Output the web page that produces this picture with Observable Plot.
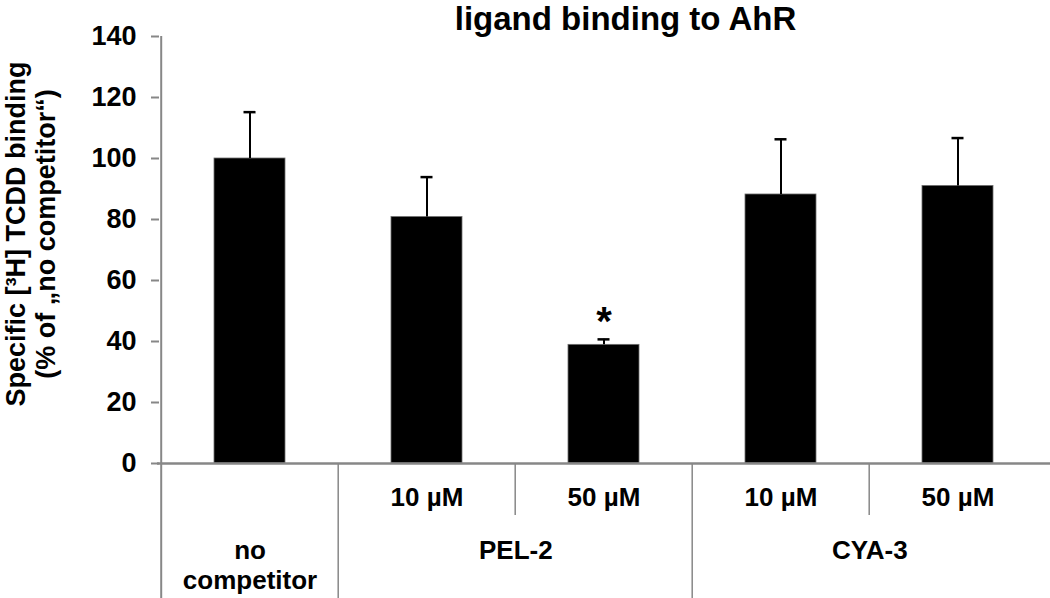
<!DOCTYPE html>
<html>
<head>
<meta charset="utf-8">
<script src="https://cdn.jsdelivr.net/npm/d3@7"></script>
<script src="https://cdn.jsdelivr.net/npm/@observablehq/plot@0.6"></script>
<style>
  html, body { margin: 0; padding: 0; background: #fff; }
</style>
</head>
<body>
<div id="chart"></div>
<script>
// ---- data ----
const title = "ligand binding to AhR";
const yLabelLines = ["Specific [³H] TCDD binding", "(% of „no competitor“)"];
const groups = ["no competitor", "PEL-2", "PEL-2", "CYA-3", "CYA-3"];
const concentrations = ["", "10 µM", "50 µM", "10 µM", "50 µM"];
const values = [100, 80.8, 38.9, 88.2, 91.0];
const errors = [15.2, 13.1, 1.8, 18.1, 15.7];
const significance = ["", "", "*", "", ""];
const yTicks = [0, 20, 40, 60, 80, 100, 120, 140];

// ---- derived tables ----
const categories = groups.map((g, i) => concentrations[i] ? g + " " + concentrations[i] : g);
const rows = categories.map((c, i) => ({
  category: c, group: groups[i], conc: concentrations[i],
  value: values[i], top: values[i] + errors[i], sig: significance[i]
}));
const spans = [];
groups.forEach((g, i) => {
  if (i === 0 || groups[i - 1] !== g) spans.push({group: g, first: categories[i], n: 1});
  else spans[spans.length - 1].n++;
});
const dividers = categories.map((c, i) => ({category: c, full: i === 0 || groups[i] !== groups[i - 1], first: i === 0}));

// ---- layout ----
const W = 1050, H = 598, mT = 36, mB = 135, mL = 159, mR = 3;
const step = (W - mL - mR) / categories.length;
const font = "'Liberation Sans', Arial, Helvetica, sans-serif";
const gray = "#878787";

const spanSizes = [...new Set(spans.map(s => s.n))];

const chart = Plot.plot({
  width: W, height: H,
  marginTop: mT, marginBottom: mB, marginLeft: mL, marginRight: mR,
  style: {fontFamily: font, fontWeight: "bold", fontSize: "26px", color: "black", background: "white", overflow: "visible"},
  x: {domain: categories, paddingInner: 0.6, paddingOuter: 0.3, axis: null},
  y: {domain: [0, yTicks[yTicks.length - 1]]},
  marks: [
    // bars
    Plot.barY(rows, {x: "category", y: "value", fill: "black", stroke: "#6e6e6e", strokeWidth: 0.8}),
    // error bars
    Plot.ruleX(rows, {x: "category", y1: "value", y2: "top", stroke: "black", strokeWidth: 2}),
    Plot.tickY(rows, {x: "category", y: "top", stroke: "black", strokeWidth: 2.5, inset: 29.5}),
    // significance
    Plot.text(rows.filter(d => d.sig), {x: "category", y: "top", text: "sig", fontSize: 40, dy: -17}),
    // y axis
    Plot.axisY({ticks: yTicks, tickSize: 8, tickPadding: 15, stroke: gray, strokeWidth: 2, fill: "black", label: null, fontSize: 27, fontWeight: "bold"}),
    // left axis line running down through the table
    Plot.ruleX(dividers.filter(d => d.first), {x: "category", dx: -step / 2, y1: yTicks[yTicks.length - 1], y2: 0, insetBottom: -mB, stroke: gray, strokeWidth: 2}),
    // group dividers (full height of table)
    Plot.ruleX(dividers.filter(d => d.full && !d.first), {x: "category", dx: -step / 2, y1: 0, y2: 0, insetBottom: -mB, stroke: gray, strokeWidth: 1.5}),
    // concentration dividers (first row only)
    Plot.ruleX(dividers.filter(d => !d.full), {x: "category", dx: -step / 2, y1: 0, y2: 0, insetBottom: -52, stroke: gray, strokeWidth: 1.5}),
    // baseline
    Plot.ruleY([0], {stroke: gray, strokeWidth: 2.5, insetRight: -3, insetLeft: -2}),
    // table: concentration row
    Plot.text(rows.filter(d => d.conc), {x: "category", text: "conc", frameAnchor: "bottom", lineAnchor: "middle", dy: 34, fontSize: 26}),
    // table: group row
    ...spanSizes.map(n => Plot.text(spans.filter(s => s.n === n), {
      x: "first", text: "group", frameAnchor: "bottom", lineAnchor: "top",
      dx: (n - 1) * step / 2, dy: 74, fontSize: 26, lineWidth: 5.5, lineHeight: 1.15
    })),
    // title
    Plot.text([title], {frameAnchor: "top", dx: 22, dy: -7, lineAnchor: "bottom", fontSize: 33}),
    // y label
    Plot.text([yLabelLines.join("\n")], {frameAnchor: "left", textAnchor: "middle", lineAnchor: "middle", rotate: -90, dx: -129, dy: -16, fontSize: 27, lineHeight: 1.12})
  ]
});
document.getElementById("chart").appendChild(chart);
</script>
</body>
</html>
